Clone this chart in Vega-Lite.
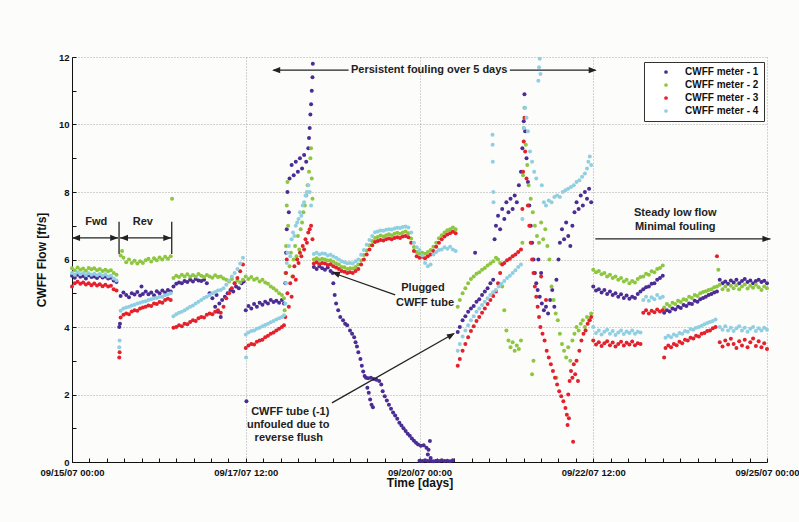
{
  "$schema": "https://vega.github.io/schema/vega-lite/v6.json",
  "width": 695,
  "height": 405,
  "autosize": {"type": "none"},
  "padding": {"left": 72, "top": 57, "right": 32, "bottom": 60},
  "background": "#fcfcfa",
  "config": {
    "font": "Liberation Sans",
    "view": {"stroke": null}
  },
  "datasets": {
    "m1": [
      {"t":0,"v":5.52},{"t":0.04,"v":5.46},{"t":0.08,"v":5.55},{"t":0.12,"v":5.49},{"t":0.16,"v":5.51},{"t":0.2,"v":5.44},{"t":0.24,"v":5.53},{"t":0.28,"v":5.48},{"t":0.32,"v":5.5},{"t":0.36,"v":5.45},{"t":0.4,"v":5.52},{"t":0.44,"v":5.47},{"t":0.48,"v":5.5},{"t":0.52,"v":5.44},{"t":0.56,"v":5.46},{"t":0.6,"v":5.38},{"t":0.64,"v":5.33},
      {"t":0.68,"v":4.0},{"t":0.69,"v":4.1},
      {"t":0.7,"v":4.92},{"t":0.74,"v":5.02},{"t":0.78,"v":4.95},{"t":0.82,"v":4.88},{"t":0.86,"v":5.0},{"t":0.9,"v":4.96},{"t":0.94,"v":5.04},{"t":0.98,"v":4.93},{"t":1.0,"v":5.2},{"t":1.02,"v":4.98},{"t":1.06,"v":5.05},{"t":1.1,"v":4.97},{"t":1.14,"v":5.02},{"t":1.18,"v":4.94},{"t":1.22,"v":5.06},{"t":1.26,"v":5.0},{"t":1.3,"v":5.08},{"t":1.34,"v":5.02},{"t":1.38,"v":5.1},{"t":1.42,"v":5.05},
      {"t":1.46,"v":5.2},{"t":1.5,"v":5.28},{"t":1.54,"v":5.32},{"t":1.58,"v":5.3},{"t":1.62,"v":5.36},{"t":1.66,"v":5.33},{"t":1.7,"v":5.4},{"t":1.74,"v":5.35},{"t":1.78,"v":5.42},{"t":1.82,"v":5.38},{"t":1.86,"v":5.36},{"t":1.9,"v":5.4},{"t":1.94,"v":5.3},{"t":1.98,"v":5.0},{"t":2.02,"v":4.85},{"t":2.06,"v":4.6},{"t":2.08,"v":4.95},{"t":2.1,"v":4.45},{"t":2.12,"v":4.7},{"t":2.14,"v":4.3},{"t":2.16,"v":4.8},{"t":2.2,"v":4.9},{"t":2.24,"v":5.0},{"t":2.28,"v":5.1},{"t":2.32,"v":5.05},{"t":2.36,"v":5.2},{"t":2.4,"v":5.15},{"t":2.44,"v":5.3},{"t":2.47,"v":5.35},
      {"t":2.5,"v":4.5},{"t":2.51,"v":1.8},{"t":2.54,"v":4.62},{"t":2.58,"v":4.55},{"t":2.62,"v":4.68},{"t":2.66,"v":4.6},{"t":2.7,"v":4.72},{"t":2.74,"v":4.66},{"t":2.78,"v":4.75},{"t":2.82,"v":4.7},{"t":2.86,"v":4.8},{"t":2.9,"v":4.74},{"t":2.94,"v":4.78},{"t":2.98,"v":4.72},{"t":3.02,"v":4.8},{"t":3.05,"v":4.7},
      {"t":3.07,"v":5.3},{"t":3.08,"v":6.2},{"t":3.09,"v":6.9},{"t":3.1,"v":8.0},{"t":3.12,"v":7.4},{"t":3.13,"v":8.4},{"t":3.16,"v":8.8},{"t":3.19,"v":8.5},{"t":3.22,"v":8.9},{"t":3.25,"v":8.6},{"t":3.28,"v":9.0},{"t":3.31,"v":8.7},{"t":3.34,"v":9.1},{"t":3.37,"v":8.9},{"t":3.4,"v":9.3},{"t":3.41,"v":9.6},{"t":3.42,"v":9.9},{"t":3.43,"v":10.3},{"t":3.44,"v":10.6},{"t":3.45,"v":11.0},{"t":3.46,"v":11.4},{"t":3.465,"v":11.8},
      {"t":3.48,"v":5.78},{"t":3.52,"v":5.72},{"t":3.56,"v":5.8},{"t":3.6,"v":5.74},{"t":3.64,"v":5.7},{"t":3.68,"v":5.76},{"t":3.72,"v":5.66},{"t":3.75,"v":5.6},{"t":3.76,"v":5.3},{"t":3.78,"v":4.95},{"t":3.8,"v":4.7},{"t":3.83,"v":4.5},{"t":3.86,"v":4.3},{"t":3.9,"v":4.2},{"t":3.93,"v":4.1},{"t":3.96,"v":4.05},{"t":4.0,"v":3.9},{"t":4.03,"v":3.8},{"t":4.06,"v":3.7},{"t":4.08,"v":3.55},{"t":4.1,"v":3.42},{"t":4.12,"v":3.25},{"t":4.15,"v":3.05},{"t":4.17,"v":2.85},{"t":4.19,"v":2.68},{"t":4.21,"v":2.55},{"t":4.23,"v":2.5},{"t":4.26,"v":2.48},{"t":4.3,"v":2.5},{"t":4.34,"v":2.46},{"t":4.38,"v":2.44},{"t":4.42,"v":2.4},{"t":4.45,"v":2.3},
      {"t":4.25,"v":2.2},{"t":4.27,"v":2.05},{"t":4.29,"v":1.85},{"t":4.31,"v":1.7},{"t":4.33,"v":1.62},
      {"t":4.47,"v":2.1},{"t":4.5,"v":1.95},{"t":4.53,"v":1.82},{"t":4.56,"v":1.7},{"t":4.59,"v":1.58},{"t":4.62,"v":1.47},{"t":4.65,"v":1.38},{"t":4.68,"v":1.28},{"t":4.71,"v":1.16},{"t":4.74,"v":1.08},{"t":4.77,"v":1.0},{"t":4.8,"v":0.92},{"t":4.83,"v":0.84},{"t":4.86,"v":0.78},{"t":4.89,"v":0.7},{"t":4.92,"v":0.63},{"t":4.95,"v":0.57},{"t":4.98,"v":0.52},{"t":5.02,"v":0.48},{"t":5.06,"v":0.5},{"t":5.1,"v":0.42},{"t":5.13,"v":0.36},{"t":5.15,"v":0.62},{"t":5.12,"v":0.22},{"t":5.16,"v":0.12},
      {"t":5.0,"v":0.04},{"t":5.04,"v":0.03},{"t":5.08,"v":0.05},{"t":5.12,"v":0.03},{"t":5.16,"v":0.04},{"t":5.2,"v":0.02},{"t":5.24,"v":0.04},{"t":5.28,"v":0.03},{"t":5.32,"v":0.05},{"t":5.36,"v":0.03},{"t":5.4,"v":0.04},{"t":5.44,"v":0.02},{"t":5.48,"v":0.05},
      {"t":5.55,"v":3.85},{"t":5.58,"v":4.0},{"t":5.62,"v":4.2},{"t":5.66,"v":4.32},{"t":5.7,"v":4.45},{"t":5.74,"v":4.55},{"t":5.78,"v":4.62},{"t":5.8,"v":6.2},{"t":5.82,"v":4.75},{"t":5.86,"v":4.82},{"t":5.9,"v":4.95},{"t":5.94,"v":5.05},{"t":5.98,"v":5.15},{"t":6.02,"v":5.3},{"t":6.06,"v":5.4},
      {"t":6.08,"v":6.6},{"t":6.1,"v":7.0},{"t":6.13,"v":7.3},{"t":6.16,"v":6.9},{"t":6.19,"v":7.5},{"t":6.22,"v":7.2},{"t":6.25,"v":7.7},{"t":6.28,"v":7.4},{"t":6.31,"v":7.8},{"t":6.34,"v":7.5},{"t":6.37,"v":7.9},{"t":6.4,"v":7.7},{"t":6.43,"v":8.2},{"t":6.46,"v":8.6},{"t":6.48,"v":9.3},{"t":6.5,"v":10.1},{"t":6.51,"v":10.9},{"t":6.52,"v":9.8},{"t":6.54,"v":9.0},{"t":6.56,"v":8.3},{"t":6.58,"v":7.6},{"t":6.6,"v":7.0},{"t":6.62,"v":6.5},{"t":6.64,"v":6.0},{"t":6.66,"v":5.6},{"t":6.68,"v":5.3},{"t":6.7,"v":5.1},{"t":6.71,"v":6.0},{"t":6.73,"v":4.9},{"t":6.75,"v":5.6},{"t":6.76,"v":4.7},{"t":6.79,"v":4.5},{"t":6.82,"v":4.6},{"t":6.85,"v":4.4},{"t":6.88,"v":4.8},{"t":6.91,"v":5.1},{"t":6.94,"v":4.6},{"t":6.97,"v":5.4},{"t":7.0,"v":6.0},{"t":7.02,"v":6.5},{"t":7.05,"v":6.9},{"t":7.08,"v":6.6},{"t":7.11,"v":7.1},{"t":7.14,"v":6.7},{"t":7.17,"v":6.4},{"t":7.2,"v":7.0},{"t":7.23,"v":7.4},{"t":7.26,"v":7.7},{"t":7.29,"v":7.5},{"t":7.32,"v":7.9},{"t":7.35,"v":7.6},{"t":7.38,"v":8.0},{"t":7.41,"v":7.8},{"t":7.44,"v":8.1},{"t":7.47,"v":7.7},
      {"t":7.5,"v":5.2},{"t":7.54,"v":5.08},{"t":7.58,"v":5.12},{"t":7.62,"v":5.02},{"t":7.66,"v":5.1},{"t":7.7,"v":4.98},{"t":7.74,"v":5.05},{"t":7.78,"v":4.95},{"t":7.82,"v":5.0},{"t":7.86,"v":4.9},{"t":7.9,"v":4.97},{"t":7.94,"v":4.86},{"t":7.98,"v":4.93},{"t":8.02,"v":4.84},{"t":8.06,"v":4.9},{"t":8.1,"v":4.86},{"t":8.14,"v":4.98},{"t":8.18,"v":5.05},{"t":8.22,"v":5.12},{"t":8.26,"v":5.18},{"t":8.3,"v":5.2},{"t":8.34,"v":5.28},{"t":8.38,"v":5.3},{"t":8.42,"v":5.4},{"t":8.46,"v":5.45},{"t":8.5,"v":5.52},
      {"t":8.52,"v":4.42},{"t":8.56,"v":4.5},{"t":8.6,"v":4.46},{"t":8.64,"v":4.55},{"t":8.68,"v":4.52},{"t":8.72,"v":4.6},{"t":8.76,"v":4.56},{"t":8.8,"v":4.65},{"t":8.84,"v":4.62},{"t":8.88,"v":4.7},{"t":8.92,"v":4.68},{"t":8.96,"v":4.78},{"t":9.0,"v":4.75},{"t":9.04,"v":4.82},{"t":9.08,"v":4.86},{"t":9.12,"v":4.9},{"t":9.16,"v":4.95},{"t":9.2,"v":4.98},{"t":9.24,"v":5.02},{"t":9.28,"v":5.05},
      {"t":9.32,"v":5.4},{"t":9.36,"v":5.3},{"t":9.4,"v":5.35},{"t":9.44,"v":5.28},{"t":9.48,"v":5.38},{"t":9.52,"v":5.32},{"t":9.56,"v":5.4},{"t":9.6,"v":5.3},{"t":9.64,"v":5.36},{"t":9.68,"v":5.42},{"t":9.72,"v":5.33},{"t":9.76,"v":5.38},{"t":9.8,"v":5.3},{"t":9.84,"v":5.36},{"t":9.88,"v":5.4},{"t":9.92,"v":5.33},{"t":9.96,"v":5.37},{"t":10,"v":5.3}
    ],
    "m2": [
      {"t":0,"v":5.74},{"t":0.04,"v":5.68},{"t":0.08,"v":5.76},{"t":0.12,"v":5.7},{"t":0.16,"v":5.73},{"t":0.2,"v":5.67},{"t":0.24,"v":5.75},{"t":0.28,"v":5.71},{"t":0.32,"v":5.74},{"t":0.36,"v":5.68},{"t":0.4,"v":5.72},{"t":0.44,"v":5.66},{"t":0.48,"v":5.7},{"t":0.52,"v":5.65},{"t":0.56,"v":5.68},{"t":0.6,"v":5.6},{"t":0.64,"v":5.55},
      {"t":0.7,"v":6.12},{"t":0.72,"v":6.25},{"t":0.74,"v":6.05},{"t":0.78,"v":5.92},{"t":0.82,"v":6.0},{"t":0.86,"v":5.9},{"t":0.9,"v":5.96},{"t":0.94,"v":5.88},{"t":0.98,"v":5.95},{"t":1.02,"v":5.9},{"t":1.06,"v":5.98},{"t":1.1,"v":6.02},{"t":1.14,"v":5.94},{"t":1.18,"v":6.04},{"t":1.22,"v":5.98},{"t":1.26,"v":6.06},{"t":1.3,"v":6.0},{"t":1.34,"v":6.08},{"t":1.38,"v":6.02},{"t":1.42,"v":6.1},{"t":1.44,"v":7.8},
      {"t":1.46,"v":5.45},{"t":1.5,"v":5.52},{"t":1.54,"v":5.48},{"t":1.58,"v":5.55},{"t":1.62,"v":5.5},{"t":1.66,"v":5.56},{"t":1.7,"v":5.49},{"t":1.74,"v":5.54},{"t":1.78,"v":5.5},{"t":1.82,"v":5.57},{"t":1.86,"v":5.52},{"t":1.9,"v":5.48},{"t":1.94,"v":5.54},{"t":1.98,"v":5.5},{"t":2.02,"v":5.46},{"t":2.06,"v":5.53},{"t":2.1,"v":5.48},{"t":2.14,"v":5.5},{"t":2.18,"v":5.44},{"t":2.22,"v":5.4},{"t":2.26,"v":5.35},{"t":2.3,"v":5.42},{"t":2.34,"v":5.3},{"t":2.38,"v":5.38},{"t":2.42,"v":5.32},{"t":2.46,"v":5.4},
      {"t":2.5,"v":5.5},{"t":2.54,"v":5.42},{"t":2.58,"v":5.48},{"t":2.62,"v":5.4},{"t":2.66,"v":5.44},{"t":2.7,"v":5.35},{"t":2.74,"v":5.4},{"t":2.78,"v":5.32},{"t":2.82,"v":5.28},{"t":2.86,"v":5.2},{"t":2.9,"v":5.15},{"t":2.94,"v":5.08},{"t":2.98,"v":5.0},{"t":3.02,"v":4.95},{"t":3.05,"v":4.85},
      {"t":3.06,"v":4.5},{"t":3.07,"v":5.6},{"t":3.08,"v":6.4},{"t":3.09,"v":7.6},{"t":3.1,"v":8.3},{"t":3.11,"v":7.0},{"t":3.13,"v":5.8},{"t":3.15,"v":6.2},{"t":3.17,"v":5.5},{"t":3.19,"v":6.0},{"t":3.21,"v":6.4},{"t":3.23,"v":6.1},{"t":3.25,"v":6.7},{"t":3.27,"v":6.3},{"t":3.29,"v":6.9},{"t":3.31,"v":7.1},{"t":3.33,"v":7.4},{"t":3.35,"v":7.6},{"t":3.37,"v":7.9},{"t":3.39,"v":8.2},{"t":3.41,"v":8.6},{"t":3.43,"v":9.0},{"t":3.44,"v":9.3},{"t":3.45,"v":8.4},{"t":3.46,"v":7.8},
      {"t":3.48,"v":6.0},{"t":3.52,"v":6.04},{"t":3.56,"v":5.99},{"t":3.6,"v":6.02},{"t":3.64,"v":6.0},{"t":3.68,"v":5.97},{"t":3.72,"v":5.98},{"t":3.76,"v":5.93},{"t":3.8,"v":5.88},{"t":3.84,"v":5.85},{"t":3.88,"v":5.78},{"t":3.92,"v":5.77},{"t":3.96,"v":5.72},{"t":4.0,"v":5.74},{"t":4.04,"v":5.73},{"t":4.08,"v":5.78},{"t":4.12,"v":5.85},{"t":4.16,"v":5.97},{"t":4.2,"v":6.13},{"t":4.24,"v":6.27},{"t":4.28,"v":6.42},{"t":4.32,"v":6.55},{"t":4.36,"v":6.64},{"t":4.4,"v":6.67},{"t":4.44,"v":6.71},{"t":4.48,"v":6.68},{"t":4.52,"v":6.72},{"t":4.56,"v":6.75},{"t":4.6,"v":6.72},{"t":4.64,"v":6.76},{"t":4.68,"v":6.79},{"t":4.72,"v":6.76},{"t":4.76,"v":6.8},{"t":4.8,"v":6.83},{"t":4.84,"v":6.78},{"t":4.88,"v":6.62},{"t":4.92,"v":6.37},{"t":4.96,"v":6.22},{"t":5.0,"v":6.18},{"t":5.04,"v":6.2},{"t":5.08,"v":6.17},{"t":5.12,"v":6.22},{"t":5.16,"v":6.28},{"t":5.2,"v":6.38},{"t":5.24,"v":6.5},{"t":5.28,"v":6.63},{"t":5.32,"v":6.72},{"t":5.36,"v":6.8},{"t":5.4,"v":6.87},{"t":5.44,"v":6.9},{"t":5.48,"v":6.95},{"t":5.52,"v":6.9},
      {"t":5.55,"v":4.6},{"t":5.58,"v":4.8},{"t":5.62,"v":5.0},{"t":5.66,"v":5.15},{"t":5.7,"v":5.3},{"t":5.74,"v":5.42},{"t":5.78,"v":5.5},{"t":5.82,"v":5.58},{"t":5.86,"v":5.62},{"t":5.9,"v":5.7},{"t":5.94,"v":5.75},{"t":5.98,"v":5.82},{"t":6.02,"v":5.88},{"t":6.06,"v":5.95},{"t":6.1,"v":6.05},
      {"t":6.13,"v":6.0},{"t":6.16,"v":5.9},{"t":6.19,"v":5.2},{"t":6.22,"v":4.5},{"t":6.25,"v":3.9},{"t":6.28,"v":3.6},{"t":6.31,"v":3.4},{"t":6.34,"v":3.55},{"t":6.37,"v":3.3},{"t":6.4,"v":3.45},{"t":6.43,"v":3.35},{"t":6.46,"v":3.6},{"t":6.48,"v":6.5},{"t":6.49,"v":8.5},{"t":6.5,"v":9.9},{"t":6.51,"v":10.5},{"t":6.53,"v":9.4},{"t":6.55,"v":8.8},{"t":6.57,"v":8.2},{"t":6.6,"v":7.8},{"t":6.62,"v":2.6},{"t":6.63,"v":7.4},{"t":6.64,"v":3.0},{"t":6.66,"v":7.0},{"t":6.69,"v":6.7},{"t":6.72,"v":6.5},{"t":6.75,"v":7.1},{"t":6.78,"v":6.6},{"t":6.81,"v":6.9},{"t":6.84,"v":6.4},{"t":6.87,"v":6.0},{"t":6.9,"v":5.2},{"t":6.93,"v":4.8},{"t":6.96,"v":4.4},{"t":6.97,"v":2.5},{"t":6.99,"v":4.2},{"t":7.02,"v":3.8},{"t":7.05,"v":3.5},{"t":7.08,"v":3.3},{"t":7.11,"v":3.1},{"t":7.14,"v":3.4},{"t":7.17,"v":3.0},{"t":7.2,"v":3.6},{"t":7.23,"v":3.8},{"t":7.26,"v":4.0},{"t":7.29,"v":3.9},{"t":7.32,"v":4.1},{"t":7.35,"v":4.2},{"t":7.38,"v":4.0},{"t":7.41,"v":4.3},{"t":7.44,"v":4.2},{"t":7.47,"v":4.4},
      {"t":7.5,"v":5.7},{"t":7.54,"v":5.62},{"t":7.58,"v":5.66},{"t":7.62,"v":5.56},{"t":7.66,"v":5.6},{"t":7.7,"v":5.5},{"t":7.74,"v":5.55},{"t":7.78,"v":5.45},{"t":7.82,"v":5.5},{"t":7.86,"v":5.4},{"t":7.9,"v":5.45},{"t":7.94,"v":5.35},{"t":7.98,"v":5.4},{"t":8.02,"v":5.3},{"t":8.06,"v":5.36},{"t":8.1,"v":5.32},{"t":8.14,"v":5.42},{"t":8.18,"v":5.48},{"t":8.22,"v":5.5},{"t":8.26,"v":5.58},{"t":8.3,"v":5.55},{"t":8.34,"v":5.65},{"t":8.38,"v":5.62},{"t":8.42,"v":5.72},{"t":8.46,"v":5.75},{"t":8.5,"v":5.82},
      {"t":8.52,"v":4.58},{"t":8.56,"v":4.68},{"t":8.6,"v":4.62},{"t":8.64,"v":4.72},{"t":8.68,"v":4.68},{"t":8.72,"v":4.78},{"t":8.76,"v":4.74},{"t":8.8,"v":4.82},{"t":8.84,"v":4.8},{"t":8.88,"v":4.9},{"t":8.92,"v":4.86},{"t":8.96,"v":4.95},{"t":9.0,"v":4.92},{"t":9.04,"v":5.0},{"t":9.08,"v":5.04},{"t":9.12,"v":5.06},{"t":9.16,"v":5.1},{"t":9.2,"v":5.12},{"t":9.24,"v":5.18},{"t":9.28,"v":5.2},{"t":9.3,"v":5.7},
      {"t":9.32,"v":5.25},{"t":9.36,"v":5.12},{"t":9.4,"v":5.2},{"t":9.44,"v":5.1},{"t":9.48,"v":5.22},{"t":9.52,"v":5.15},{"t":9.56,"v":5.24},{"t":9.6,"v":5.12},{"t":9.64,"v":5.2},{"t":9.68,"v":5.26},{"t":9.72,"v":5.14},{"t":9.76,"v":5.22},{"t":9.8,"v":5.16},{"t":9.84,"v":5.25},{"t":9.88,"v":5.18},{"t":9.92,"v":5.1},{"t":9.96,"v":5.2},{"t":10,"v":5.15}
    ],
    "m3": [
      {"t":0,"v":5.2},{"t":0.04,"v":5.3},{"t":0.08,"v":5.34},{"t":0.12,"v":5.28},{"t":0.16,"v":5.32},{"t":0.2,"v":5.26},{"t":0.24,"v":5.3},{"t":0.28,"v":5.24},{"t":0.32,"v":5.29},{"t":0.36,"v":5.23},{"t":0.4,"v":5.27},{"t":0.44,"v":5.21},{"t":0.48,"v":5.25},{"t":0.52,"v":5.2},{"t":0.56,"v":5.22},{"t":0.6,"v":5.12},{"t":0.64,"v":5.08},
      {"t":0.68,"v":3.1},{"t":0.685,"v":3.25},
      {"t":0.7,"v":4.28},{"t":0.74,"v":4.36},{"t":0.78,"v":4.4},{"t":0.82,"v":4.38},{"t":0.86,"v":4.46},{"t":0.9,"v":4.5},{"t":0.94,"v":4.48},{"t":0.98,"v":4.55},{"t":1.02,"v":4.58},{"t":1.06,"v":4.6},{"t":1.1,"v":4.64},{"t":1.14,"v":4.62},{"t":1.18,"v":4.7},{"t":1.22,"v":4.68},{"t":1.26,"v":4.74},{"t":1.3,"v":4.72},{"t":1.34,"v":4.8},{"t":1.38,"v":4.84},{"t":1.42,"v":4.8},
      {"t":1.46,"v":3.98},{"t":1.5,"v":4.0},{"t":1.54,"v":4.05},{"t":1.58,"v":4.02},{"t":1.62,"v":4.1},{"t":1.66,"v":4.08},{"t":1.7,"v":4.15},{"t":1.74,"v":4.2},{"t":1.78,"v":4.18},{"t":1.82,"v":4.26},{"t":1.86,"v":4.3},{"t":1.9,"v":4.28},{"t":1.94,"v":4.36},{"t":1.98,"v":4.4},{"t":2.02,"v":4.38},{"t":2.06,"v":4.45},{"t":2.1,"v":4.5},{"t":2.14,"v":4.42},{"t":2.18,"v":4.6},{"t":2.22,"v":4.85},{"t":2.26,"v":5.0},{"t":2.3,"v":5.15},{"t":2.34,"v":5.3},{"t":2.38,"v":5.45},{"t":2.42,"v":5.65},{"t":2.46,"v":5.85},
      {"t":2.5,"v":3.38},{"t":2.54,"v":3.45},{"t":2.58,"v":3.5},{"t":2.62,"v":3.48},{"t":2.66,"v":3.56},{"t":2.7,"v":3.6},{"t":2.74,"v":3.62},{"t":2.78,"v":3.7},{"t":2.82,"v":3.74},{"t":2.86,"v":3.8},{"t":2.9,"v":3.84},{"t":2.94,"v":3.9},{"t":2.98,"v":3.95},{"t":3.02,"v":4.0},{"t":3.05,"v":4.05},
      {"t":3.07,"v":4.3},{"t":3.08,"v":5.6},{"t":3.09,"v":6.0},{"t":3.1,"v":5.0},{"t":3.12,"v":4.6},{"t":3.14,"v":5.3},{"t":3.16,"v":4.9},{"t":3.18,"v":5.5},{"t":3.2,"v":5.8},{"t":3.22,"v":5.4},{"t":3.24,"v":6.0},{"t":3.26,"v":5.9},{"t":3.28,"v":6.2},{"t":3.3,"v":6.1},{"t":3.32,"v":6.4},{"t":3.34,"v":6.3},{"t":3.36,"v":6.6},{"t":3.38,"v":6.5},{"t":3.4,"v":6.8},{"t":3.42,"v":6.9},{"t":3.44,"v":7.0},{"t":3.46,"v":6.6},
      {"t":3.48,"v":5.88},{"t":3.52,"v":5.92},{"t":3.56,"v":5.86},{"t":3.6,"v":5.9},{"t":3.64,"v":5.88},{"t":3.68,"v":5.84},{"t":3.72,"v":5.86},{"t":3.76,"v":5.8},{"t":3.8,"v":5.76},{"t":3.84,"v":5.72},{"t":3.88,"v":5.66},{"t":3.92,"v":5.64},{"t":3.96,"v":5.6},{"t":4.0,"v":5.62},{"t":4.04,"v":5.6},{"t":4.08,"v":5.66},{"t":4.12,"v":5.72},{"t":4.16,"v":5.85},{"t":4.2,"v":6.0},{"t":4.24,"v":6.15},{"t":4.28,"v":6.3},{"t":4.32,"v":6.42},{"t":4.36,"v":6.52},{"t":4.4,"v":6.55},{"t":4.44,"v":6.58},{"t":4.48,"v":6.56},{"t":4.52,"v":6.6},{"t":4.56,"v":6.62},{"t":4.6,"v":6.6},{"t":4.64,"v":6.64},{"t":4.68,"v":6.66},{"t":4.72,"v":6.64},{"t":4.76,"v":6.68},{"t":4.8,"v":6.7},{"t":4.84,"v":6.66},{"t":4.88,"v":6.5},{"t":4.92,"v":6.25},{"t":4.96,"v":6.1},{"t":5.0,"v":6.05},{"t":5.04,"v":6.08},{"t":5.08,"v":6.04},{"t":5.12,"v":6.1},{"t":5.16,"v":6.15},{"t":5.2,"v":6.25},{"t":5.24,"v":6.38},{"t":5.28,"v":6.5},{"t":5.32,"v":6.6},{"t":5.36,"v":6.68},{"t":5.4,"v":6.74},{"t":5.44,"v":6.78},{"t":5.48,"v":6.82},{"t":5.52,"v":6.78},
      {"t":5.55,"v":2.85},{"t":5.58,"v":3.05},{"t":5.62,"v":3.3},{"t":5.66,"v":3.5},{"t":5.7,"v":3.7},{"t":5.74,"v":3.88},{"t":5.78,"v":4.02},{"t":5.82,"v":4.18},{"t":5.86,"v":4.3},{"t":5.9,"v":4.42},{"t":5.94,"v":4.55},{"t":5.98,"v":4.68},{"t":6.02,"v":4.8},{"t":6.06,"v":4.92},{"t":6.1,"v":5.05},{"t":6.13,"v":5.3},{"t":6.16,"v":5.6},{"t":6.19,"v":5.85},{"t":6.22,"v":5.9},{"t":6.26,"v":5.98},{"t":6.3,"v":6.02},{"t":6.34,"v":6.1},{"t":6.38,"v":6.15},{"t":6.42,"v":6.22},{"t":6.46,"v":6.3},
      {"t":6.48,"v":7.5},{"t":6.49,"v":8.6},{"t":6.5,"v":9.5},{"t":6.51,"v":10.2},{"t":6.52,"v":9.2},{"t":6.54,"v":8.4},{"t":6.56,"v":7.6},{"t":6.58,"v":7.0},{"t":6.6,"v":6.5},{"t":6.62,"v":6.0},{"t":6.64,"v":5.6},{"t":6.66,"v":5.2},{"t":6.68,"v":4.9},{"t":6.7,"v":4.6},{"t":6.72,"v":4.3},{"t":6.74,"v":4.0},{"t":6.75,"v":5.5},{"t":6.77,"v":3.8},{"t":6.8,"v":3.6},{"t":6.82,"v":4.8},{"t":6.83,"v":3.3},{"t":6.86,"v":3.1},{"t":6.89,"v":2.9},{"t":6.92,"v":2.7},{"t":6.95,"v":2.5},{"t":6.98,"v":2.3},{"t":7.01,"v":2.1},{"t":7.04,"v":1.95},{"t":7.07,"v":1.8},{"t":7.1,"v":1.6},{"t":7.12,"v":1.4},{"t":7.13,"v":1.1},{"t":7.14,"v":2.0},{"t":7.15,"v":1.3},{"t":7.16,"v":2.4},{"t":7.18,"v":2.7},{"t":7.2,"v":2.5},{"t":7.21,"v":0.6},{"t":7.22,"v":2.9},{"t":7.24,"v":2.6},{"t":7.26,"v":3.0},{"t":7.28,"v":2.4},{"t":7.3,"v":3.3},{"t":7.33,"v":3.6},{"t":7.36,"v":3.8},{"t":7.39,"v":3.9},{"t":7.42,"v":4.1},{"t":7.45,"v":4.2},{"t":7.47,"v":4.3},
      {"t":7.5,"v":3.6},{"t":7.54,"v":3.48},{"t":7.58,"v":3.55},{"t":7.62,"v":3.44},{"t":7.66,"v":3.52},{"t":7.7,"v":3.58},{"t":7.74,"v":3.46},{"t":7.78,"v":3.54},{"t":7.82,"v":3.42},{"t":7.86,"v":3.5},{"t":7.9,"v":3.56},{"t":7.94,"v":3.45},{"t":7.98,"v":3.53},{"t":8.02,"v":3.48},{"t":8.06,"v":3.57},{"t":8.1,"v":3.46},{"t":8.14,"v":3.52},{"t":8.18,"v":3.5},
      {"t":8.22,"v":4.42},{"t":8.26,"v":4.5},{"t":8.3,"v":4.4},{"t":8.34,"v":4.48},{"t":8.38,"v":4.44},{"t":8.42,"v":4.52},{"t":8.46,"v":4.46},{"t":8.5,"v":4.5},
      {"t":8.52,"v":3.1},{"t":8.54,"v":3.38},{"t":8.58,"v":3.45},{"t":8.62,"v":3.4},{"t":8.66,"v":3.5},{"t":8.7,"v":3.46},{"t":8.74,"v":3.56},{"t":8.78,"v":3.52},{"t":8.82,"v":3.62},{"t":8.86,"v":3.6},{"t":8.9,"v":3.68},{"t":8.94,"v":3.66},{"t":8.98,"v":3.74},{"t":9.02,"v":3.72},{"t":9.06,"v":3.8},{"t":9.1,"v":3.82},{"t":9.14,"v":3.88},{"t":9.18,"v":3.9},{"t":9.22,"v":3.96},{"t":9.26,"v":4.0},{"t":9.28,"v":6.1},
      {"t":9.32,"v":3.55},{"t":9.36,"v":3.42},{"t":9.4,"v":3.6},{"t":9.44,"v":3.48},{"t":9.48,"v":3.65},{"t":9.52,"v":3.5},{"t":9.56,"v":3.38},{"t":9.6,"v":3.58},{"t":9.64,"v":3.45},{"t":9.68,"v":3.62},{"t":9.72,"v":3.4},{"t":9.76,"v":3.55},{"t":9.8,"v":3.66},{"t":9.84,"v":3.44},{"t":9.88,"v":3.58},{"t":9.92,"v":3.4},{"t":9.96,"v":3.52},{"t":10,"v":3.35}
    ],
    "m4": [
      {"t":0,"v":5.6},{"t":0.04,"v":5.55},{"t":0.08,"v":5.62},{"t":0.12,"v":5.56},{"t":0.16,"v":5.6},{"t":0.2,"v":5.54},{"t":0.24,"v":5.59},{"t":0.28,"v":5.55},{"t":0.32,"v":5.58},{"t":0.36,"v":5.53},{"t":0.4,"v":5.57},{"t":0.44,"v":5.52},{"t":0.48,"v":5.56},{"t":0.52,"v":5.5},{"t":0.56,"v":5.52},{"t":0.6,"v":5.44},{"t":0.64,"v":5.38},
      {"t":0.68,"v":3.4},{"t":0.685,"v":3.6},
      {"t":0.7,"v":4.48},{"t":0.74,"v":4.55},{"t":0.78,"v":4.58},{"t":0.82,"v":4.6},{"t":0.86,"v":4.64},{"t":0.9,"v":4.66},{"t":0.94,"v":4.7},{"t":0.98,"v":4.72},{"t":1.02,"v":4.75},{"t":1.06,"v":4.76},{"t":1.1,"v":4.8},{"t":1.14,"v":4.82},{"t":1.18,"v":4.85},{"t":1.22,"v":4.86},{"t":1.26,"v":4.9},{"t":1.3,"v":4.9},{"t":1.34,"v":4.94},{"t":1.38,"v":4.97},{"t":1.42,"v":5.0},
      {"t":1.46,"v":4.32},{"t":1.5,"v":4.38},{"t":1.54,"v":4.42},{"t":1.58,"v":4.45},{"t":1.62,"v":4.5},{"t":1.66,"v":4.55},{"t":1.7,"v":4.6},{"t":1.74,"v":4.64},{"t":1.78,"v":4.7},{"t":1.82,"v":4.75},{"t":1.86,"v":4.8},{"t":1.9,"v":4.86},{"t":1.94,"v":4.9},{"t":1.98,"v":4.95},{"t":2.02,"v":5.0},{"t":2.06,"v":5.04},{"t":2.1,"v":5.08},{"t":2.14,"v":5.1},{"t":2.18,"v":5.15},{"t":2.22,"v":5.25},{"t":2.26,"v":5.38},{"t":2.3,"v":5.5},{"t":2.34,"v":5.6},{"t":2.38,"v":5.72},{"t":2.42,"v":5.88},{"t":2.46,"v":6.05},
      {"t":2.5,"v":3.78},{"t":2.505,"v":3.1},{"t":2.54,"v":3.84},{"t":2.58,"v":3.88},{"t":2.62,"v":3.9},{"t":2.66,"v":3.95},{"t":2.7,"v":3.98},{"t":2.74,"v":4.02},{"t":2.78,"v":4.06},{"t":2.82,"v":4.1},{"t":2.86,"v":4.14},{"t":2.9,"v":4.18},{"t":2.94,"v":4.22},{"t":2.98,"v":4.26},{"t":3.02,"v":4.3},{"t":3.05,"v":4.35},
      {"t":3.07,"v":4.7},{"t":3.08,"v":5.3},{"t":3.09,"v":5.9},{"t":3.1,"v":6.2},{"t":3.12,"v":6.4},{"t":3.14,"v":6.1},{"t":3.16,"v":6.6},{"t":3.18,"v":6.8},{"t":3.2,"v":6.7},{"t":3.22,"v":7.0},{"t":3.24,"v":7.1},{"t":3.26,"v":7.2},{"t":3.28,"v":7.4},{"t":3.3,"v":7.3},{"t":3.32,"v":7.6},{"t":3.34,"v":7.7},{"t":3.36,"v":7.9},{"t":3.38,"v":8.0},{"t":3.4,"v":8.2},{"t":3.42,"v":8.0},{"t":3.44,"v":7.6},
      {"t":3.48,"v":6.16},{"t":3.52,"v":6.2},{"t":3.56,"v":6.15},{"t":3.6,"v":6.18},{"t":3.64,"v":6.17},{"t":3.68,"v":6.12},{"t":3.72,"v":6.14},{"t":3.76,"v":6.09},{"t":3.8,"v":6.05},{"t":3.84,"v":6.0},{"t":3.88,"v":5.95},{"t":3.92,"v":5.92},{"t":3.96,"v":5.89},{"t":4.0,"v":5.9},{"t":4.04,"v":5.88},{"t":4.08,"v":5.95},{"t":4.12,"v":6.0},{"t":4.16,"v":6.14},{"t":4.2,"v":6.28},{"t":4.24,"v":6.44},{"t":4.28,"v":6.58},{"t":4.32,"v":6.7},{"t":4.36,"v":6.81},{"t":4.4,"v":6.83},{"t":4.44,"v":6.86},{"t":4.48,"v":6.85},{"t":4.52,"v":6.88},{"t":4.56,"v":6.9},{"t":4.6,"v":6.89},{"t":4.64,"v":6.92},{"t":4.68,"v":6.94},{"t":4.72,"v":6.93},{"t":4.76,"v":6.96},{"t":4.8,"v":6.98},{"t":4.84,"v":6.95},{"t":4.88,"v":6.8},{"t":4.92,"v":6.5},{"t":4.96,"v":6.36},{"t":5.0,"v":6.28},{"t":5.04,"v":6.12},{"t":5.08,"v":5.9},{"t":5.12,"v":5.8},{"t":5.16,"v":5.85},{"t":5.2,"v":6.15},{"t":5.24,"v":6.22},{"t":5.28,"v":6.28},{"t":5.32,"v":6.3},{"t":5.36,"v":6.36},{"t":5.4,"v":6.32},{"t":5.44,"v":6.38},{"t":5.48,"v":6.3},{"t":5.52,"v":6.25},
      {"t":5.55,"v":3.3},{"t":5.58,"v":3.5},{"t":5.62,"v":3.72},{"t":5.66,"v":3.9},{"t":5.7,"v":4.05},{"t":5.74,"v":4.2},{"t":5.78,"v":4.32},{"t":5.82,"v":4.45},{"t":5.86,"v":4.55},{"t":5.9,"v":4.65},{"t":5.94,"v":4.75},{"t":5.98,"v":4.85},{"t":6.02,"v":4.95},{"t":6.05,"v":9.7},{"t":6.052,"v":9.4},{"t":6.055,"v":8.9},{"t":6.06,"v":5.03},{"t":6.062,"v":8.0},{"t":6.065,"v":7.7},{"t":6.1,"v":5.1},{"t":6.14,"v":5.2},{"t":6.18,"v":5.28},{"t":6.22,"v":5.36},{"t":6.26,"v":5.45},{"t":6.3,"v":5.52},{"t":6.34,"v":5.6},{"t":6.38,"v":5.68},{"t":6.42,"v":5.78},{"t":6.46,"v":5.85},
      {"t":6.48,"v":7.2},{"t":6.5,"v":9.9},{"t":6.52,"v":10.5},{"t":6.54,"v":10.2},{"t":6.56,"v":9.8},{"t":6.59,"v":9.2},{"t":6.62,"v":8.9},{"t":6.65,"v":8.6},{"t":6.68,"v":8.4},{"t":6.71,"v":11.3},{"t":6.72,"v":11.7},{"t":6.73,"v":11.95},{"t":6.74,"v":11.5},{"t":6.76,"v":8.2},{"t":6.79,"v":7.7},
      {"t":6.82,"v":7.6},{"t":6.86,"v":7.75},{"t":6.9,"v":7.7},{"t":6.94,"v":7.85},{"t":6.98,"v":7.9},{"t":7.02,"v":7.85},{"t":7.06,"v":8.0},{"t":7.1,"v":8.05},{"t":7.14,"v":8.1},{"t":7.18,"v":8.15},{"t":7.22,"v":8.2},{"t":7.26,"v":8.3},{"t":7.3,"v":8.35},{"t":7.34,"v":8.45},{"t":7.38,"v":8.55},{"t":7.41,"v":8.7},{"t":7.43,"v":8.9},{"t":7.45,"v":9.05},{"t":7.47,"v":8.8},
      {"t":7.5,"v":4.0},{"t":7.54,"v":3.82},{"t":7.58,"v":3.9},{"t":7.62,"v":3.78},{"t":7.66,"v":3.86},{"t":7.7,"v":3.92},{"t":7.74,"v":3.8},{"t":7.78,"v":3.88},{"t":7.82,"v":3.76},{"t":7.86,"v":3.84},{"t":7.9,"v":3.9},{"t":7.94,"v":3.79},{"t":7.98,"v":3.87},{"t":8.02,"v":3.82},{"t":8.06,"v":3.9},{"t":8.1,"v":3.8},{"t":8.14,"v":3.86},{"t":8.18,"v":3.84},
      {"t":8.22,"v":4.8},{"t":8.26,"v":4.9},{"t":8.3,"v":4.78},{"t":8.34,"v":4.88},{"t":8.38,"v":4.82},{"t":8.42,"v":4.95},{"t":8.46,"v":4.86},{"t":8.5,"v":4.9},
      {"t":8.54,"v":3.68},{"t":8.58,"v":3.74},{"t":8.62,"v":3.7},{"t":8.66,"v":3.78},{"t":8.7,"v":3.74},{"t":8.74,"v":3.82},{"t":8.78,"v":3.8},{"t":8.82,"v":3.88},{"t":8.86,"v":3.86},{"t":8.9,"v":3.94},{"t":8.94,"v":3.92},{"t":8.98,"v":3.98},{"t":9.02,"v":4.0},{"t":9.06,"v":4.04},{"t":9.1,"v":4.08},{"t":9.14,"v":4.12},{"t":9.18,"v":4.15},{"t":9.22,"v":4.18},{"t":9.26,"v":4.22},
      {"t":9.32,"v":4.0},{"t":9.36,"v":3.92},{"t":9.4,"v":4.02},{"t":9.44,"v":3.9},{"t":9.48,"v":3.98},{"t":9.52,"v":3.88},{"t":9.56,"v":3.96},{"t":9.6,"v":4.02},{"t":9.64,"v":3.9},{"t":9.68,"v":3.98},{"t":9.72,"v":3.86},{"t":9.76,"v":3.95},{"t":9.8,"v":4.0},{"t":9.84,"v":3.88},{"t":9.88,"v":3.96},{"t":9.92,"v":3.9},{"t":9.96,"v":3.98},{"t":10,"v":3.92}
    ],
    "arrows": [
      {"t":2.9,"v":11.61,"t2":3.98,"v2":11.61},
      {"t":6.3,"v":11.61,"t2":7.53,"v2":11.61},
      {"t":0.0,"v":6.64,"t2":0.665,"v2":6.64},
      {"t":0.69,"v":6.64,"t2":1.43,"v2":6.64},
      {"t":0.677,"v":7.12,"t2":0.677,"v2":6.16},
      {"t":1.435,"v":7.12,"t2":1.435,"v2":6.16},
      {"t":7.53,"v":6.61,"t2":10.05,"v2":6.61},
      {"t":4.65,"v":4.95,"t2":3.76,"v2":5.6},
      {"t":3.74,"v":1.75,"t2":5.49,"v2":3.8}
    ],
    "heads": [
      {"t":2.88,"v":11.61,"a":270},
      {"t":7.55,"v":11.61,"a":90},
      {"t":0.0,"v":6.64,"a":270},
      {"t":0.665,"v":6.64,"a":90},
      {"t":0.69,"v":6.64,"a":270},
      {"t":1.43,"v":6.64,"a":90},
      {"t":10.05,"v":6.61,"a":90},
      {"t":3.74,"v":5.63,"a":290},
      {"t":5.51,"v":3.82,"a":60}
    ],
    "notes": [
      {"t":5.14,"v":11.61,"s":"Persistent fouling over 5 days"},
      {"t":0.35,"v":7.11,"s":"Fwd"},
      {"t":1.02,"v":7.11,"s":"Rev"},
      {"t":8.68,"v":7.38,"s":"Steady low flow"},
      {"t":8.68,"v":6.96,"s":"Minimal fouling"},
      {"t":5.05,"v":5.16,"s":"Plugged"},
      {"t":5.08,"v":4.71,"s":"CWFF tube"},
      {"t":3.14,"v":1.48,"s":"CWFF tube (-1)"},
      {"t":3.11,"v":1.09,"s":"unfouled due to"},
      {"t":3.12,"v":0.71,"s":"reverse flush"}
    ]
  },
  "encoding": {
    "x": {
      "field": "t",
      "type": "quantitative",
      "scale": {"domain": [0, 10], "nice": false, "zero": false},
      "axis": {
        "title": "Time [days]",
        "titleFontSize": 12,
        "titleFontWeight": "bold",
        "titleColor": "#111",
        "titlePadding": 1,
        "values": [0,0.25,0.5,0.75,1,1.25,1.5,1.75,2,2.25,2.5,2.75,3,3.25,3.5,3.75,4,4.25,4.5,4.75,5,5.25,5.5,5.75,6,6.25,6.5,6.75,7,7.25,7.5,7.75,8,8.25,8.5,8.75,9,9.25,9.5,9.75,10],
        "labelExpr": "datum.value === 0 ? '09/15/07 00:00' : datum.value === 2.5 ? '09/17/07 12:00' : datum.value === 5 ? '09/20/07 00:00' : datum.value === 7.5 ? '09/22/07 12:00' : datum.value === 10 ? '09/25/07 00:00' : ''",
        "labelOverlap": false,
        "labelFlush": false,
        "labelFontSize": 9.5,
        "labelFontWeight": "bold",
        "labelColor": "#111",
        "labelPadding": 9,
        "tickSize": -4,
        "tickColor": "#111",
        "domainColor": "#111",
        "grid": true,
        "gridColor": {"condition": {"test": "datum.value % 2.5 === 0", "value": "#a8a8a8"}, "value": "transparent"},
        "gridDash": [1, 2]
      }
    },
    "y": {
      "field": "v",
      "type": "quantitative",
      "scale": {"domain": [0, 12], "nice": false},
      "axis": {
        "title": "CWFF Flow [ft/s]",
        "titleFontSize": 12,
        "titleFontWeight": "bold",
        "titleColor": "#111",
        "titlePadding": 10,
        "values": [0,1,2,3,4,5,6,7,8,9,10,11,12],
        "labelExpr": "datum.value % 2 === 0 ? datum.label : ''",
        "labelFontSize": 9.5,
        "labelFontWeight": "bold",
        "labelColor": "#111",
        "labelPadding": 7,
        "tickSize": -4,
        "tickColor": "#111",
        "domainColor": "#111",
        "grid": true,
        "gridColor": {"condition": {"test": "datum.value % 2 === 0", "value": "#a8a8a8"}, "value": "transparent"},
        "gridDash": [1, 2]
      }
    }
  },
  "layer": [
    {
      "data": {"name": "m1"},
      "mark": {"type": "circle", "size": 16, "opacity": 1},
      "encoding": {
        "color": {
          "datum": "CWFF meter - 1",
          "type": "nominal",
          "scale": {
            "domain": ["CWFF meter - 1", "CWFF meter - 2", "CWFF meter - 3", "CWFF meter - 4"],
            "range": ["#4b2c94", "#8dc63f", "#e3202b", "#90cfe2"]
          },
          "legend": {
            "title": null,
            "orient": "none",
            "legendX": 572,
            "legendY": 5,
            "fillColor": "white",
            "strokeColor": "#333",
            "padding": 5,
            "symbolType": "circle",
            "symbolSize": 14,
            "symbolOffset": 12,
            "labelOffset": 14,
            "labelFontSize": 10,
            "labelFontWeight": "bold",
            "labelColor": "#111",
            "rowPadding": 3
          }
        }
      }
    },
    {
      "data": {"name": "m2"},
      "mark": {"type": "circle", "size": 16, "opacity": 1},
      "encoding": {"color": {"datum": "CWFF meter - 2", "type": "nominal"}}
    },
    {
      "data": {"name": "m3"},
      "mark": {"type": "circle", "size": 16, "opacity": 1},
      "encoding": {"color": {"datum": "CWFF meter - 3", "type": "nominal"}}
    },
    {
      "data": {"name": "m4"},
      "mark": {"type": "circle", "size": 16, "opacity": 1},
      "encoding": {"color": {"datum": "CWFF meter - 4", "type": "nominal"}}
    },
    {
      "data": {"name": "arrows"},
      "mark": {"type": "rule", "color": "#222", "strokeWidth": 1.3},
      "encoding": {
        "x2": {"field": "t2"},
        "y2": {"field": "v2"}
      }
    },
    {
      "data": {"name": "heads"},
      "mark": {"type": "point", "shape": "M0,0L0.7,1.8L-0.7,1.8Z", "filled": true, "color": "#222", "opacity": 1, "size": 80},
      "encoding": {
        "angle": {"field": "a", "type": "quantitative", "scale": null}
      }
    },
    {
      "data": {"name": "notes"},
      "mark": {"type": "text", "font": "Liberation Sans", "fontSize": 11, "fontWeight": "bold", "color": "#222", "align": "center", "baseline": "middle"},
      "encoding": {
        "text": {"field": "s"}
      }
    }
  ]
}
